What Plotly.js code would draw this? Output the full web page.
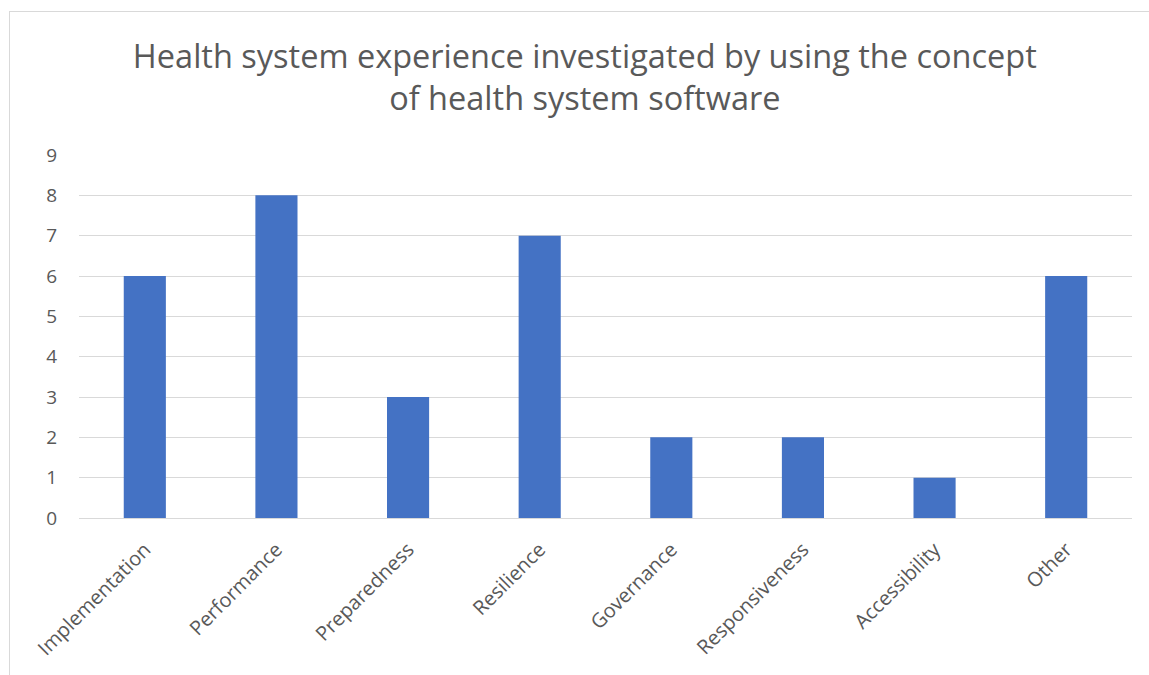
<!DOCTYPE html>
<html>
<head>
<meta charset="utf-8">
<script src="https://cdn.plot.ly/plotly-3.0.1.min.js"></script>
<style>
html,body{margin:0;padding:0;background:#fff;}
#frame{position:absolute;left:9px;top:11px;width:1200px;height:700px;border:1px solid #d9d9d9;box-sizing:border-box;pointer-events:none;z-index:5;}
#chart{position:absolute;left:0;top:0;width:1149px;height:675px;}
</style>
</head>
<body>
<div id="chart"></div>
<div id="frame"></div>
<script>
const categories = ["Implementation","Performance","Preparedness","Resilience","Governance","Responsiveness","Accessibility","Other"];
const counts = [6,8,3,7,2,2,1,6];
const yTicks = [0,1,2,3,4,5,6,7,8,9];
const chartTitle = "Health system experience investigated by using the concept<br>of health system software";

const fontFam = "'Open Sans', 'Noto Sans', sans-serif";
Plotly.newPlot('chart', [{
  type: 'bar',
  x: categories,
  y: counts,
  marker: {color: '#4472C4'},
  hoverinfo: 'x+y'
}], {
  width: 1149, height: 675,
  margin: {l: 79, r: 17, t: 155, b: 157},
  paper_bgcolor: '#ffffff',
  plot_bgcolor: '#ffffff',
  bargap: 0.68,
  showlegend: false,
  title: {
    text: chartTitle,
    font: {family: fontFam, size: 32.5, color: '#595959'},
    x: 0.509, xanchor: 'center',
    y: 0.899, yanchor: 'top',
    xref: 'container', yref: 'container'
  },
  xaxis: {
    tickangle: -45,
    tickfont: {family: fontFam, size: 20, color: '#595959'},
    showgrid: false,
    showline: true, linecolor: '#d9d9d9', linewidth: 1,
    ticks: 'outside', ticklen: 11, tickcolor: 'rgba(0,0,0,0)', fixedrange: true
  },
  yaxis: {
    range: [0, 9],
    tickvals: yTicks,
    tickfont: {family: fontFam, size: 19, color: '#595959'},
    showgrid: true, gridcolor: '#d9d9d9', gridwidth: 1,
    zeroline: false, showline: false,
    ticks: '', ticklabelstandoff: 21, fixedrange: true
  }
}, {displayModeBar: false, staticPlot: true});
</script>
</body>
</html>
